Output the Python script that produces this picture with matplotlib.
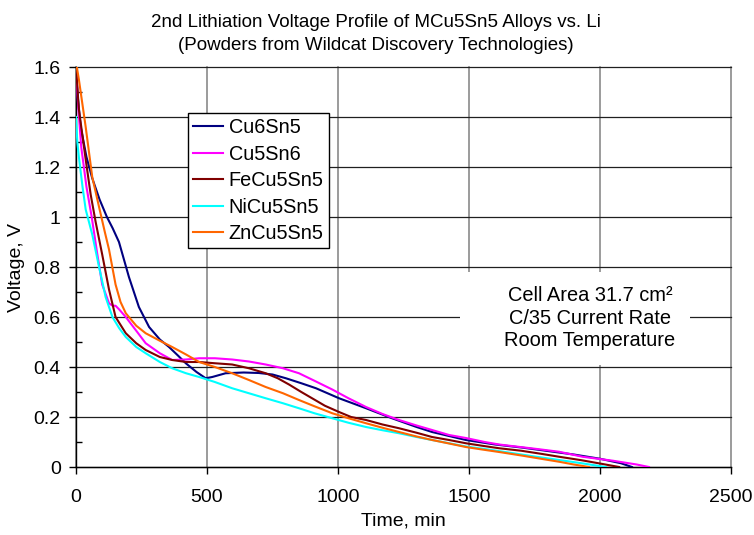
import matplotlib
matplotlib.use("Agg")
import matplotlib.pyplot as plt
from matplotlib.patches import Rectangle
from matplotlib.ticker import MultipleLocator

plt.rcParams['font.family'] = ['Liberation Sans', 'DejaVu Sans']

# Time (min) and voltage (V), one pair of lists per alloy
t_cu6sn5 = [0, 5, 18, 40, 62, 90, 118, 140, 164, 202, 240, 279, 320, 355, 390,
            419, 460, 495, 520, 571, 640, 698, 750, 801, 860, 916, 1004, 1107,
            1206, 1300, 1359, 1488, 1600, 1700, 1800, 1900, 2000, 2080, 2122]
v_cu6sn5 = [1.6, 1.5, 1.36, 1.24, 1.155, 1.07, 1.0, 0.955, 0.9, 0.76, 0.64, 0.56,
            0.51, 0.48, 0.445, 0.415, 0.38, 0.355, 0.36, 0.375, 0.378, 0.376, 0.37,
            0.355, 0.335, 0.315, 0.275, 0.235, 0.195, 0.16, 0.14, 0.108, 0.09,
            0.078, 0.064, 0.05, 0.033, 0.015, 0.0]

t_cu5sn6 = [0, 8, 20, 40, 60, 80, 100, 126, 140, 151, 165, 190, 230, 266, 320,
            367, 420, 470, 530, 596, 660, 724, 790, 851, 910, 978, 1040, 1107,
            1170, 1233, 1300, 1359, 1424, 1488, 1560, 1615, 1679, 1760, 1844,
            1933, 2050, 2140, 2187]
v_cu5sn6 = [1.6, 1.45, 1.28, 1.12, 1.0, 0.86, 0.73, 0.655, 0.645, 0.645, 0.63,
            0.6, 0.545, 0.495, 0.455, 0.428, 0.43, 0.435, 0.435, 0.43, 0.422,
            0.41, 0.395, 0.375, 0.345, 0.31, 0.275, 0.24, 0.212, 0.188, 0.166,
            0.148, 0.128, 0.116, 0.1, 0.09, 0.082, 0.072, 0.061, 0.041, 0.025,
            0.01, 0.0]

t_fecu5sn5 = [0, 11, 37, 56, 75, 100, 126, 151, 190, 230, 266, 320, 367, 420,
              470, 530, 596, 660, 724, 770, 813, 860, 901, 950, 1004, 1050, 1107,
              1170, 1233, 1300, 1359, 1424, 1488, 1550, 1615, 1700, 1780, 1844,
              1930, 2010, 2073]
v_fecu5sn5 = [1.6, 1.43, 1.23, 1.09, 0.98, 0.85, 0.71, 0.6, 0.535, 0.495, 0.468,
              0.44, 0.428, 0.42, 0.42, 0.415, 0.41, 0.395, 0.375, 0.355, 0.33,
              0.3, 0.275, 0.245, 0.22, 0.2, 0.188, 0.17, 0.155, 0.137, 0.12,
              0.108, 0.095, 0.085, 0.075, 0.065, 0.052, 0.041, 0.027, 0.012, 0.0]

t_nicu5sn5 = [0, 5, 11, 25, 37, 62, 88, 113, 139, 165, 190, 230, 266, 320, 367,
              420, 470, 530, 596, 660, 724, 790, 851, 910, 978, 1040, 1107, 1170,
              1233, 1300, 1359, 1424, 1488, 1560, 1650, 1750, 1844, 1930, 2022]
v_nicu5sn5 = [1.4, 1.3, 1.24, 1.12, 1.03, 0.93, 0.8, 0.68, 0.6, 0.555, 0.52, 0.48,
              0.455, 0.42, 0.395, 0.375, 0.36, 0.34, 0.315, 0.295, 0.275, 0.255,
              0.235, 0.215, 0.195, 0.177, 0.16, 0.147, 0.135, 0.12, 0.108, 0.095,
              0.082, 0.072, 0.058, 0.042, 0.028, 0.015, 0.0]

t_zncu5sn5 = [0, 11, 37, 62, 88, 110, 126, 151, 170, 190, 230, 266, 320, 367,
              420, 470, 530, 596, 660, 724, 790, 851, 910, 978, 1040, 1107, 1170,
              1233, 1300, 1359, 1424, 1488, 1550, 1615, 1700, 1780, 1844, 1900,
              1958]
v_zncu5sn5 = [1.62, 1.55, 1.36, 1.16, 1.04, 0.94, 0.87, 0.73, 0.66, 0.615, 0.565,
              0.535, 0.505, 0.48, 0.45, 0.42, 0.4, 0.375, 0.348, 0.32, 0.295,
              0.268, 0.243, 0.215, 0.195, 0.175, 0.157, 0.14, 0.122, 0.108,
              0.094, 0.08, 0.07, 0.06, 0.046, 0.032, 0.021, 0.01, 0.0]

series = [
    ('Cu6Sn5', t_cu6sn5, v_cu6sn5, '#000080'),
    ('Cu5Sn6', t_cu5sn6, v_cu5sn6, '#ff00ff'),
    ('FeCu5Sn5', t_fecu5sn5, v_fecu5sn5, '#800000'),
    ('NiCu5Sn5', t_nicu5sn5, v_nicu5sn5, '#00ffff'),
    ('ZnCu5Sn5', t_zncu5sn5, v_zncu5sn5, '#ff6600'),
]

fig = plt.figure(figsize=(7.54, 5.35), dpi=100)
ax = fig.add_axes([76 / 754, 68 / 535, 655 / 754, 400 / 535])

for name, t, v, col in series:
    ax.plot(t, v, color=col, lw=1.5, label=name, zorder=3)

ax.set_xlim(0, 2500)
ax.set_ylim(0, 1.6)
ax.xaxis.set_major_locator(MultipleLocator(500))
ax.yaxis.set_minor_locator(MultipleLocator(0.1))
ax.set_yticks([0, 0.2, 0.4, 0.6, 0.8, 1.0, 1.2, 1.4, 1.6])
ax.set_yticklabels(['0', '0.2', '0.4', '0.6', '0.8', '1', '1.2', '1.4', '1.6'])

# Excel-style gridlines: dark horizontals, grey verticals
ax.grid(axis='y', which='major', color='#202020', lw=0.9)
ax.grid(axis='x', which='major', color='#808080', lw=1.1)
for line in ax.get_xgridlines() + ax.get_ygridlines():
    line.set_clip_on(False)

for s in ['top', 'right']:
    ax.spines[s].set_visible(False)
ax.spines['left'].set_linewidth(1.0)
ax.spines['bottom'].set_linewidth(1.0)

ax.tick_params(axis='x', which='major', direction='out', length=5,
               labelsize=14, width=1, pad=11)
ax.tick_params(axis='y', which='major', direction='out', length=5,
               labelsize=14, width=1, pad=6)
ax.tick_params(axis='y', which='minor', direction='in', length=4, width=1)

ax.set_xlabel('Time, min', fontsize=14)
ax.set_ylabel('Voltage, V', fontsize=14)
ax.xaxis.set_label_coords(0.5, -0.115)
ax.yaxis.set_label_coords(-0.078, 0.5)

fig.text(0.4985, 1 - 27 / 535,
         '2nd Lithiation Voltage Profile of MCu5Sn5 Alloys vs. Li',
         ha='center', va='baseline', fontsize=13.5)
fig.text(0.4985, 1 - 50 / 535, '(Powders from Wildcat Discovery Technologies)',
         ha='center', va='baseline', fontsize=13.5)

# white panel behind the cell notes, hiding the gridlines there
ax.add_patch(Rectangle((0.586, 0.255), 0.351, 0.2325, transform=ax.transAxes,
                       fc='white', ec='none', zorder=2, clip_on=False))
ax.text(1962, 0.596, 'Cell Area 31.7 cm\u00b2\nC/35 Current Rate\nRoom Temperature',
        ha='center', va='center', fontsize=14.4, linespacing=1.25, zorder=4)

leg = ax.legend(loc='upper left', bbox_to_anchor=(188 / 754, 1 - 113 / 535),
                bbox_transform=fig.transFigure, fontsize=14.3, fancybox=False,
                framealpha=1, edgecolor='black', borderpad=0.25,
                labelspacing=0.38, handlelength=1.5, handletextpad=0.3,
                borderaxespad=0)
leg.get_frame().set_linewidth(1.0)
leg.set_zorder(5)

fig.savefig('out.png', dpi=100)
